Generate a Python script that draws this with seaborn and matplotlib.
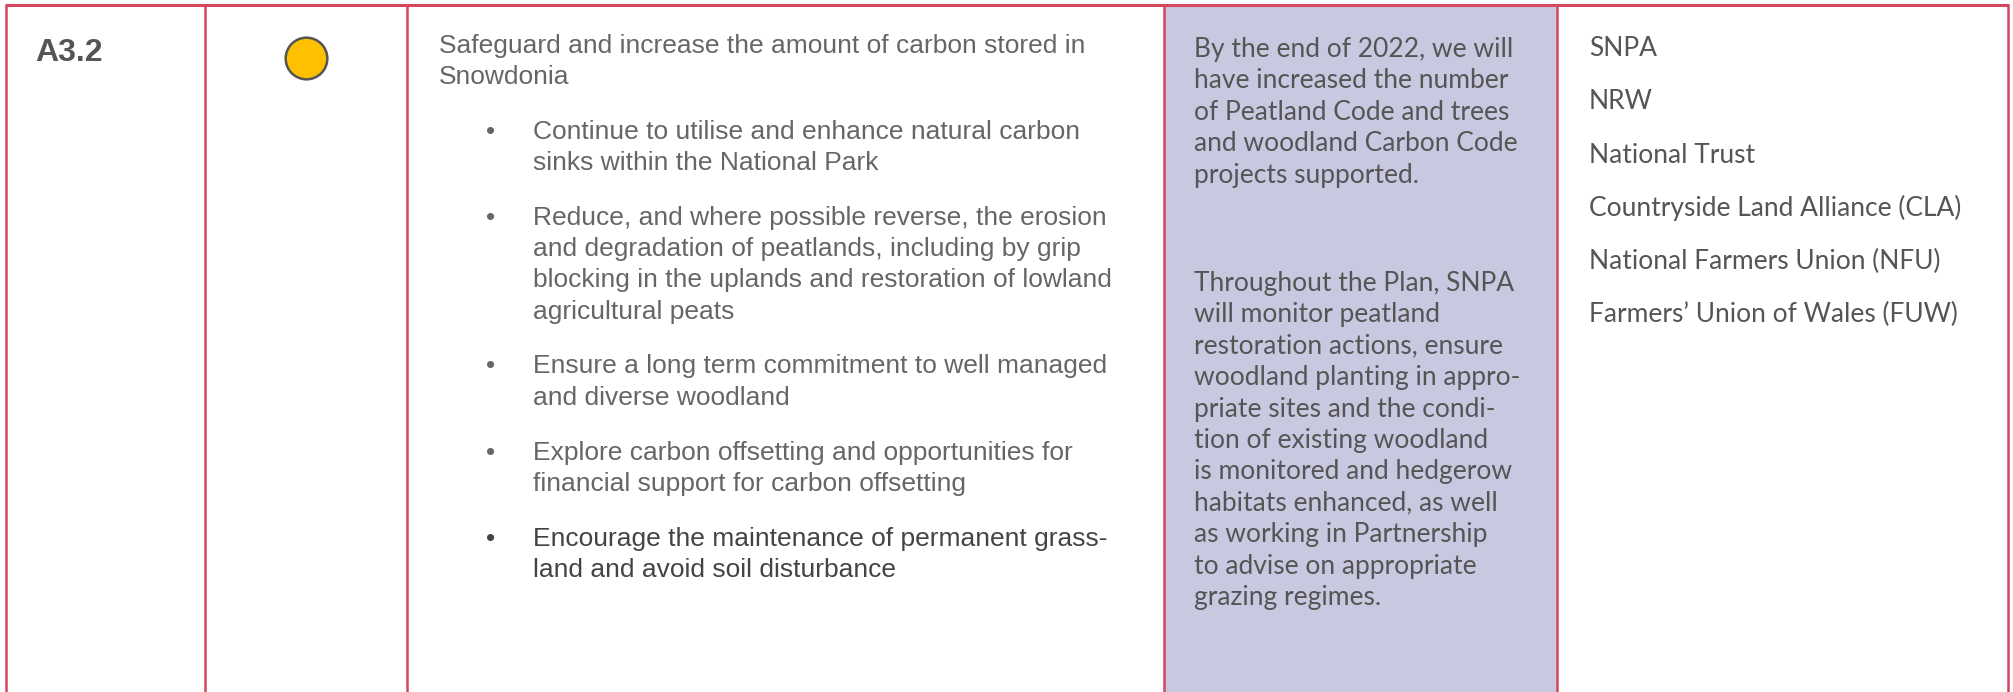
import matplotlib
matplotlib.use('Agg')
import matplotlib.pyplot as plt
import seaborn as sns
import pandas as pd

sns.set_theme(style="white")
plt.rcParams['font.family'] = ['Liberation Sans', 'DejaVu Sans']

# table content
action_id = "A3.2"
status = ["amber"]
status_colors = {"amber": "#FFC000"}

objective = ["Safeguard and increase the amount of carbon stored in",
             "Snowdonia"]
bullets = [
    ["Continue to utilise and enhance natural carbon",
     "sinks within the National Park"],
    ["Reduce, and where possible reverse, the erosion",
     "and degradation of peatlands, including by grip",
     "blocking in the uplands and restoration of lowland",
     "agricultural peats"],
    ["Ensure a long term commitment to well managed",
     "and diverse woodland"],
    ["Explore carbon offsetting and opportunities for",
     "financial support for carbon offsetting"],
    ["Encourage the maintenance of permanent grass-",
     "land and avoid soil disturbance"],
]
measures = [
    ["By the end of 2022, we will",
     "have increased the number",
     "of Peatland Code and trees",
     "and woodland Carbon Code",
     "projects supported."],
    ["Throughout the Plan, SNPA",
     "will monitor peatland",
     "restoration actions, ensure",
     "woodland planting in appro-",
     "priate sites and the condi-",
     "tion of existing woodland",
     "is monitored and hedgerow",
     "habitats enhanced, as well",
     "as working in Partnership",
     "to advise on appropriate",
     "grazing regimes."],
]
partners = ["SNPA", "NRW", "National Trust", "Countryside Land Alliance (CLA)",
            "National Farmers Union (NFU)", "Farmers\u2019 Union of Wales (FUW)"]

# layout (pixel space)
W, H = 2013, 692
col_edges = [6, 205, 407, 1164, 1557, 2008]
top = 5
border = "#D4475F"
lilac = "#C8C8E0"

fig = plt.figure(figsize=(W / 100, H / 100), dpi=100)
ax = fig.add_axes([0, 0, 1, 1])
ax.set_xlim(0, W)
ax.set_ylim(H, 0)
ax.axis('off')

# shaded measures column
ax.axvspan(col_edges[3], col_edges[4], ymin=0, ymax=1 - top / H, color=lilac, lw=0, zorder=0)

# grid lines
ax.plot([col_edges[0] - 1, col_edges[-1] + 1], [top, top], color=border, lw=2.2,
        solid_capstyle='butt', zorder=3)
for x in col_edges:
    ax.plot([x, x], [top, H], color=border, lw=1.8, solid_capstyle='butt', zorder=3)

# id
ax.text(35, 53, action_id, fontsize=23, fontweight='bold', color='#555555',
        va='center', ha='left')

# status dot
dot = pd.DataFrame({"x": [(col_edges[1] + col_edges[2]) / 2], "y": [58], "status": status})
sns.scatterplot(data=dot, x="x", y="y", hue="status", palette=status_colors,
                s=900, edgecolor='#555555', linewidth=1.8, legend=False, ax=ax, zorder=4)

# objective column
arial = dict(fontsize=19, va='baseline', ha='left', family=['Liberation Sans', 'DejaVu Sans'])
step, gap, off = 31.1, 55, 8
y = 45
for i, line in enumerate(objective):
    ax.text(439, y + off, line, color='#666666', **arial)
    if i < len(objective) - 1:
        y += step
for k, item in enumerate(bullets):
    y += gap
    col = '#444444' if k == len(bullets) - 1 else '#666666'
    ax.text(486, y + off, "\u2022", color=col, **arial)
    for j, line in enumerate(item):
        ax.text(533, y + off, line, color=col, **arial)
        if j < len(item) - 1:
            y += step

# measures column
lato = dict(fontsize=19, va='baseline', ha='left', family=['Lato', 'DejaVu Sans'], color='#555555')
y = 49
for p, para in enumerate(measures):
    if p > 0:
        y = 283
    for line in para:
        ax.text(1194, y + 8, line, **lato)
        y += 31.4

# partners column
for i, name in enumerate(partners):
    ax.text(1589, 48 + i * 53.3 + 8, name, **lato)

fig.savefig("out.png", dpi=100)
